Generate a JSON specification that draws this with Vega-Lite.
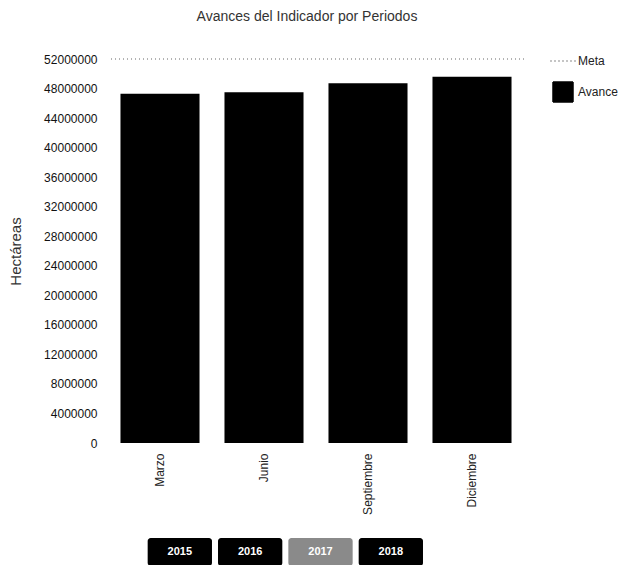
{
  "$schema": "https://vega.github.io/schema/vega-lite/v6.json",
  "padding": {"left": 8, "top": 10, "right": 15, "bottom": 0},
  "background": "white",
  "config": {"font": "Liberation Sans", "view": {"stroke": null}},
  "spacing": 23,
  "vconcat": [
    {
      "title": {"text": "Avances del Indicador por Periodos", "fontSize": 14, "fontWeight": "normal", "color": "#333333", "offset": 29, "anchor": "middle", "frame": "group", "dx": -9},
      "width": 416,
      "height": 384,
      "layer": [
        {
          "data": {"values": [
            {"periodo": "Marzo", "avance": 47300000},
            {"periodo": "Junio", "avance": 47500000},
            {"periodo": "Septiembre", "avance": 48700000},
            {"periodo": "Diciembre", "avance": 49600000}
          ]},
          "mark": {"type": "bar", "color": "#000000"},
          "encoding": {
            "x": {"field": "periodo", "type": "nominal", "sort": null,
                  "scale": {"paddingInner": 0.24, "paddingOuter": 0.12},
                  "axis": {"title": null, "labelAngle": -90, "labelFontSize": 12, "labelColor": "#222222", "ticks": false, "domain": false, "labelPadding": 10}},
            "y": {"field": "avance", "type": "quantitative",
                  "scale": {"domain": [0, 52000000], "nice": false},
                  "axis": {"title": "Hectáreas", "titleFontSize": 15, "titleFontWeight": "normal", "titleColor": "#333333", "titlePadding": 20,
                           "values": [0, 4000000, 8000000, 12000000, 16000000, 20000000, 24000000, 28000000, 32000000, 36000000, 40000000, 44000000, 48000000, 52000000],
                           "format": "d", "labelFontSize": 12, "labelColor": "#111111", "labelOverlap": false, "labelFlush": false, "grid": false, "domain": false, "ticks": false, "labelPadding": 11}},
            "color": {"datum": "Avance", "type": "nominal",
                      "scale": {"domain": ["Meta", "Avance"], "range": ["#666666", "#000000"]},
                      "legend": {"title": null, "orient": "right", "offset": 36, "symbolSize": 100, "labelFontSize": 12, "labelColor": "#222222", "labelOffset": 4, "rowPadding": 12, "padding": -9,
                                 "encode": {"symbols": {"update": {
                                   "shape": {"signal": "datum.label === 'Meta' ? 'stroke' : 'square'"},
                                   "size": {"signal": "datum.label === 'Meta' ? 625 : 400"},
                                   "strokeDash": {"signal": "datum.label === 'Meta' ? [1, 3] : [1, 0]"},
                                   "fill": {"signal": "datum.label === 'Meta' ? 'transparent' : '#000000'"},
                                   "stroke": {"signal": "datum.label === 'Meta' ? '#555555' : '#000000'"},
                                   "strokeWidth": {"value": 1.5},
                                   "opacity": {"value": 1}
                                 }}}}}
          }
        },
        {
          "data": {"values": [{"serie": "Meta", "meta": 52000000}]},
          "mark": {"type": "rule", "strokeDash": [1, 3], "strokeWidth": 1},
          "encoding": {
            "y": {"field": "meta", "type": "quantitative",
                  "scale": {"domain": [0, 52000000], "nice": false},
                  "axis": {"title": "Hectáreas", "titleFontSize": 15, "titleFontWeight": "normal", "titleColor": "#333333", "titlePadding": 20,
                           "values": [0, 4000000, 8000000, 12000000, 16000000, 20000000, 24000000, 28000000, 32000000, 36000000, 40000000, 44000000, 48000000, 52000000],
                           "format": "d", "labelFontSize": 12, "labelColor": "#111111", "labelOverlap": false, "labelFlush": false, "grid": false, "domain": false, "ticks": false, "labelPadding": 11}},
            "color": {"datum": "Meta", "type": "nominal"}
          }
        }
      ]
    },
    {
      "width": 416,
      "height": 28,
      "data": {"values": [
        {"anio": "2015", "sel": "no"},
        {"anio": "2016", "sel": "no"},
        {"anio": "2017", "sel": "si"},
        {"anio": "2018", "sel": "no"}
      ]},
      "encoding": {
        "x": {"field": "anio", "type": "nominal", "sort": null,
              "scale": {"paddingInner": 0.0857, "paddingOuter": 1.014, "align": 0.282},
              "axis": null}
      },
      "layer": [
        {
          "mark": {"type": "rect", "cornerRadius": 3},
          "encoding": {"fill": {"field": "sel", "type": "nominal", "scale": {"domain": ["no", "si"], "range": ["#000000", "#8a8a8a"]}, "legend": null}}
        },
        {
          "mark": {"type": "text", "color": "white", "fontWeight": "bold", "fontSize": 11},
          "encoding": {"text": {"field": "anio"}}
        }
      ]
    }
  ]
}
